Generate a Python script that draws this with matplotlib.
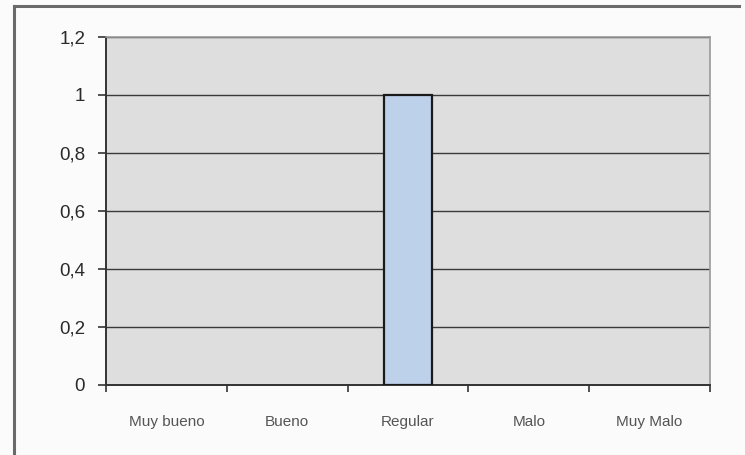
import matplotlib
matplotlib.use('Agg')
import matplotlib.pyplot as plt
from matplotlib.lines import Line2D

plt.rcParams['font.family'] = ['Liberation Sans', 'DejaVu Sans']

categories = ['Muy bueno', 'Bueno', 'Regular', 'Malo', 'Muy Malo']
values = [0, 0, 1, 0, 0]
y_ticks = [0, 0.2, 0.4, 0.6, 0.8, 1.0, 1.2]
y_labels = ['0', '0,2', '0,4', '0,6', '0,8', '1', '1,2']

fig = plt.figure(figsize=(7.45, 4.55), dpi=100)
fig.patch.set_facecolor('#fbfbfb')

# scanned outer frame (left + top edges)
fig.add_artist(Line2D([0.019, 0.019], [0.0, 0.986], color='#6a6a6a', lw=2.2,
                      transform=fig.transFigure))
fig.add_artist(Line2D([0.019, 0.992], [0.986, 0.986], color='#6a6a6a', lw=2.2,
                      transform=fig.transFigure))

ax = fig.add_axes([0.1423, 0.154, 0.8107, 0.7647])
ax.set_facecolor('#dedede')

x = list(range(len(categories)))
nz = [i for i, v in enumerate(values) if v > 0]
ax.bar([x[i] for i in nz], [values[i] for i in nz], width=0.4,
       color='#bed1ea', edgecolor='#1a1a1a', linewidth=1.6, zorder=3)

ax.set_xlim(-0.5, len(categories) - 0.5)
ax.set_ylim(0, 1.2)
ax.set_yticks(y_ticks)
ax.set_yticklabels(y_labels, fontsize=13.5, color='#2a2a2a')
ax.yaxis.grid(True, color='#3a3a3a', lw=1.0, zorder=1)
ax.set_axisbelow(True)

ax.set_xticks(x)
ax.set_xticklabels(categories, fontsize=11, color='#555555')
ax.tick_params(axis='x', length=0, pad=22)
ax.set_xticks([i + 0.5 for i in range(-1, len(categories))], minor=True)
ax.tick_params(axis='x', which='minor', length=5, width=1.2, color='#333333')
ax.tick_params(axis='y', length=6, width=1.2, color='#333333', pad=9)

for side in ['left', 'bottom']:
    ax.spines[side].set_color('#333333')
    ax.spines[side].set_linewidth(1.4)
for side in ['top', 'right']:
    ax.spines[side].set_color('#9a9a9a')
    ax.spines[side].set_linewidth(1.2)

fig.savefig('out.png', dpi=100, facecolor=fig.get_facecolor())
